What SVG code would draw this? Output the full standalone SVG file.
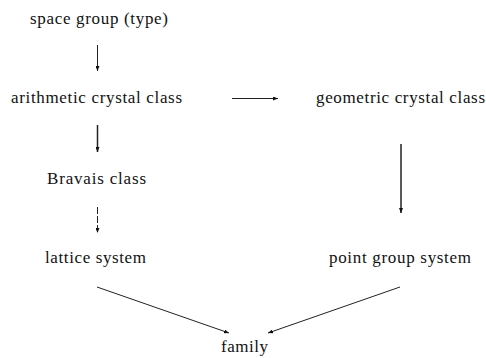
<svg xmlns="http://www.w3.org/2000/svg" width="486" height="358" viewBox="0 0 486 358">
<style>
text{font-family:"Liberation Serif","Times New Roman",serif;font-size:17px;fill:#111}
.c{stroke:#222;stroke-width:1;fill:none}
.t{stroke-width:1.5}
</style>
<defs>
<marker id="ah" markerUnits="userSpaceOnUse" markerWidth="6" markerHeight="4" refX="5" refY="2" orient="auto">
<path d="M0,0 L5,2 L0,4 z" fill="#111"/>
</marker>
</defs>
<rect width="486" height="358" fill="#fff"/>
<g id="connectors">
<line class="c" x1="97.5" y1="45" x2="97.5" y2="71" marker-end="url(#ah)"/>
<line class="c" x1="232" y1="98.5" x2="278" y2="98.5" marker-end="url(#ah)"/>
<line class="c t" x1="97.5" y1="125" x2="97.5" y2="152" marker-end="url(#ah)"/>
<line class="c" x1="97.5" y1="207" x2="97.5" y2="233" stroke-dasharray="7 2" marker-end="url(#ah)"/>
<line class="c t" x1="401" y1="144" x2="401" y2="213" marker-end="url(#ah)"/>
<line class="c" x1="97" y1="287" x2="229" y2="333" marker-end="url(#ah)"/>
<line class="c" x1="400" y1="287" x2="268" y2="333" marker-end="url(#ah)"/>
</g>
<g id="space-group"><text x="30" y="24" textLength="138" lengthAdjust="spacing">space group (type)</text></g>
<g id="arithmetic"><text x="11" y="103" textLength="171" lengthAdjust="spacing">arithmetic crystal class</text></g>
<g id="geometric"><text x="316" y="103" textLength="169" lengthAdjust="spacing">geometric crystal class</text></g>
<g id="bravais"><text x="47" y="184" textLength="99" lengthAdjust="spacing">Bravais class</text></g>
<g id="lattice"><text x="45" y="263" textLength="101" lengthAdjust="spacing">lattice system</text></g>
<g id="point-group"><text x="329" y="263" textLength="142" lengthAdjust="spacing">point group system</text></g>
<g id="family"><text x="221" y="352" textLength="47" lengthAdjust="spacing">family</text></g>
</svg>
